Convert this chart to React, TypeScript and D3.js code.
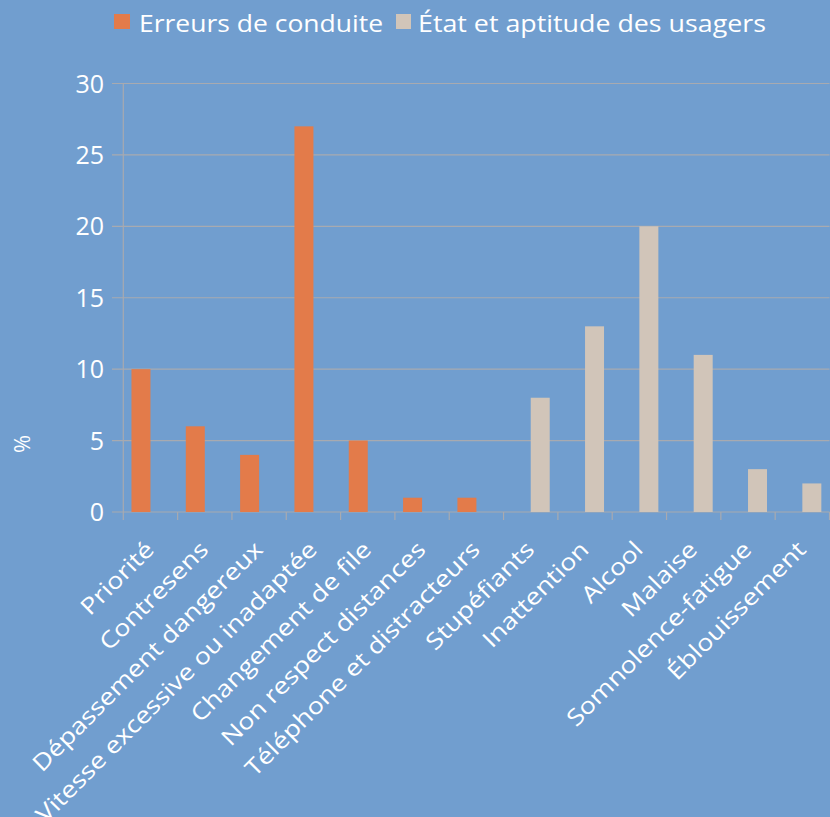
import React from "react";
import * as d3 from "d3";

const categories = [
  "Priorité",
  "Contresens",
  "Dépassement dangereux",
  "Vitesse excessive ou inadaptée",
  "Changement de file",
  "Non respect distances",
  "Téléphone et distracteurs",
  "Stupéfiants",
  "Inattention",
  "Alcool",
  "Malaise",
  "Somnolence-fatigue",
  "Éblouissement",
];
const seriesNames = ["Erreurs de conduite", "État et aptitude des usagers"];
const erreurs = [10, 6, 4, 27, 5, 1, 1, null, null, null, null, null, null];
const etat = [null, null, null, null, null, null, null, 8, 13, 20, 11, 3, 2];
const yTicks = [0, 5, 10, 15, 20, 25, 30];
const colors = ["#e37b4a", "#d1c5b9"];

const W = 830;
const H = 817;
const BG = "#719ecf";
const GRID = "#a8aab0";
const FONT = "'Open Sans', 'Noto Sans', sans-serif";

export default function App() {
  const left = 123.3;
  const right = 829.5;
  const top = 83.5;
  const bottom = 512;
  const x = d3.scaleBand<string>().domain(categories).range([left, right]).paddingInner(0).paddingOuter(0);
  const y = d3.scaleLinear().domain([0, 30]).range([bottom, top]);
  const bw = x.bandwidth();
  const barW = bw / 2.86;
  const gap = (bw - 2 * barW) / 2;
  const series = [erreurs, etat];

  return (
    <svg width={W} height={H} style={{ position: "absolute", left: 0, top: 0, display: "block" }}>
      <rect x={0} y={0} width={W} height={H} fill={BG} />
      {/* legend */}
      <rect x={114} y={14} width={16} height={15} fill={colors[0]} />
      <text x={139} y={32} fill="#fff" fontFamily={FONT} fontSize={24} textLength={244} lengthAdjust="spacingAndGlyphs">
        {seriesNames[0]}
      </text>
      <rect x={396} y={14} width={15} height={15} fill={colors[1]} />
      <text x={418} y={32} fill="#fff" fontFamily={FONT} fontSize={24} textLength={348} lengthAdjust="spacingAndGlyphs">
        {seriesNames[1]}
      </text>
      {/* gridlines */}
      {yTicks.map((t) => (
        <g key={t}>
          <line x1={112} x2={right} y1={y(t)} y2={y(t)} stroke={GRID} strokeWidth={1.2} />
          <text x={104} y={y(t) + 9} textAnchor="end" fill="#fff" fontFamily={FONT} fontSize={25}>
            {t}
          </text>
        </g>
      ))}
      {/* y axis */}
      <line x1={left} x2={left} y1={top} y2={bottom + 8} stroke={GRID} strokeWidth={1.2} />
      {/* category ticks */}
      {categories.map((c) => (
        <line key={c} x1={x(c)! + bw} x2={x(c)! + bw} y1={bottom} y2={bottom + 8} stroke={GRID} strokeWidth={1.2} />
      ))}
      {/* bars */}
      {series.map((vals, s) =>
        vals.map((v, i) =>
          v == null ? null : (
            <rect
              key={`${s}-${i}`}
              x={x(categories[i])! + gap + s * barW}
              y={y(v)}
              width={barW}
              height={bottom - y(v)}
              fill={colors[s]}
            />
          )
        )
      )}
      {/* category labels */}
      {categories.map((c) => {
        const cx = x(c)! + bw / 2 + 5;
        const cy = 551;
        return (
          <text
            key={c}
            x={0}
            y={0}
            textAnchor="end"
            fill="#fff"
            fontFamily={FONT}
            fontSize={23}
            transform={`translate(${cx} ${cy}) rotate(-45) scale(1.17 1)`}
          >
            {c}
          </text>
        );
      })}
      {/* axis title */}
      <text
        x={30}
        y={444}
        textAnchor="middle"
        fill="#fff"
        fontFamily={FONT}
        fontSize={22}
        transform={`rotate(-90 30 444)`}
      >
        %
      </text>
    </svg>
  );
}
